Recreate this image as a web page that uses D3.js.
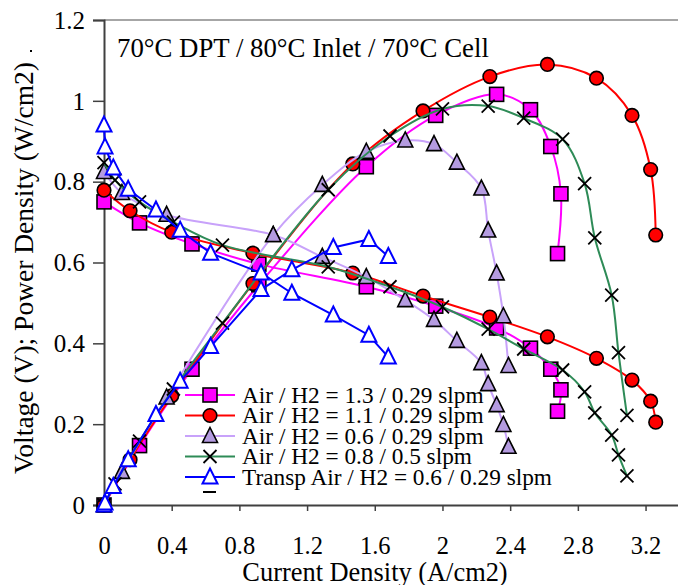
<!DOCTYPE html>
<html>
<head>
<meta charset="utf-8">
<script src="https://cdn.jsdelivr.net/npm/d3@7"></script>
<style>
  html, body { margin: 0; padding: 0; background: #fff; }
  svg { display: block; }
  svg text { font-family: "Liberation Serif", "Times New Roman", Times, serif !important; fill: #000; }
</style>
</head>
<body>
<div id="chart"></div>
<script>
// ---------- data ----------
const title = "70°C DPT / 80°C Inlet / 70°C Cell";
const xLabel = "Current Density (A/cm2)";
const yLabel = "Voltage (V); Power Density (W/cm2)";
const xTicks = [0, 0.4, 0.8, 1.2, 1.6, 2, 2.4, 2.8, 3.2];
const yTicks = [0, 0.2, 0.4, 0.6, 0.8, 1, 1.2];

const seriesNames = [
  "Air / H2 = 1.3 / 0.29 slpm",
  "Air / H2 = 1.1 / 0.29 slpm",
  "Air / H2 = 0.6 / 0.29 slpm",
  "Air / H2 = 0.8 / 0.5 slpm",
  "Transp Air / H2 = 0.6 / 0.29 slpm"
];

// Air/H2 = 1.3/0.29
const cur13 = [0, 0.21, 0.52, 0.915, 1.55, 1.96, 2.32, 2.52, 2.64, 2.70, 2.68];
const volt13 = [0.75, 0.698, 0.646, 0.596, 0.54, 0.492, 0.438, 0.388, 0.336, 0.285, 0.232];
const pow13 = [0, 0.147, 0.336, 0.545, 0.837, 0.964, 1.016, 0.978, 0.887, 0.770, 0.622];

// Air/H2 = 1.1/0.29
const cur11 = [0, 0.154, 0.40, 0.88, 1.47, 1.885, 2.28, 2.62, 2.91, 3.12, 3.23, 3.26];
const volt11 = [0.779, 0.728, 0.675, 0.623, 0.574, 0.517, 0.465, 0.416, 0.363, 0.309, 0.257, 0.205];
const pow11 = [0, 0.112, 0.27, 0.548, 0.844, 0.975, 1.06, 1.09, 1.056, 0.964, 0.83, 0.668];

// Air/H2 = 0.6/0.29
const cur06 = [0, 0.106, 0.37, 1.0, 1.29, 1.55, 1.78, 1.95, 2.085, 2.23, 2.27, 2.32, 2.36, 2.39];
const volt06 = [0.824, 0.772, 0.718, 0.668, 0.614, 0.564, 0.507, 0.458, 0.406, 0.351, 0.299, 0.247, 0.198, 0.144];
const pow06 = [0, 0.082, 0.266, 0.668, 0.792, 0.874, 0.902, 0.893, 0.847, 0.783, 0.679, 0.573, 0.467, 0.344];

// Air/H2 = 0.8/0.5
const cur08 = [0, 0.065, 0.21, 0.41, 0.70, 1.325, 1.69, 2.0, 2.27, 2.48, 2.71, 2.84, 2.9, 3.0, 3.04, 3.09];
const volt08 = [0.847, 0.804, 0.75, 0.70, 0.643, 0.589, 0.54, 0.49, 0.435, 0.386, 0.334, 0.28, 0.228, 0.173, 0.124, 0.072];
const pow08 = [0, 0.052, 0.158, 0.287, 0.45, 0.78, 0.913, 0.98, 0.987, 0.957, 0.905, 0.795, 0.661, 0.519, 0.377, 0.222];

// Transp Air/H2 = 0.6/0.29
const curTr = [0, 0.006, 0.055, 0.143, 0.307, 0.45, 0.63, 0.928, 1.11, 1.355, 1.565, 1.68];
const voltTr = [0.94, 0.886, 0.834, 0.781, 0.73, 0.68, 0.623, 0.574, 0.524, 0.47, 0.42, 0.366];
const powTr = [0, 0.005, 0.046, 0.112, 0.224, 0.306, 0.392, 0.533, 0.582, 0.637, 0.657, 0.615];

// ---------- chart ----------
const FONT = '"Liberation Serif", "Times New Roman", Times, serif';
const W = 678, H = 585;
const svg = d3.select("#chart").append("svg").attr("width", W).attr("height", H)
  .attr("font-family", FONT);
svg.append("rect").attr("width", W).attr("height", H).attr("fill", "#fff");

const x = d3.scaleLinear().domain([0, 3.4]).range([104, 679.4]);
const y = d3.scaleLinear().domain([0, 1.2]).range([505, 20]);

const styles = [
  { line: "#ff00ff", fill: "#ff00ff", stroke: "#000", shape: "square", curve: d3.curveCatmullRom.alpha(0.5) },
  { line: "#ff0000", fill: "#ff0000", stroke: "#000", shape: "circle", curve: d3.curveCatmullRom.alpha(0.5) },
  { line: "#c8a2fa", fill: "#b49be0", stroke: "#000", shape: "triangle", curve: d3.curveCatmullRom.alpha(0.5) },
  { line: "#2e8b57", fill: "none", stroke: "#000", shape: "x", curve: d3.curveCatmullRom.alpha(0.5) },
  { line: "#0000ff", fill: "#fff", stroke: "#0000ff", shape: "otriangle", curve: d3.curveLinear }
];

const data = [
  { cur: cur13, volt: volt13, pow: pow13 },
  { cur: cur11, volt: volt11, pow: pow11 },
  { cur: cur06, volt: volt06, pow: pow06 },
  { cur: cur08, volt: volt08, pow: pow08 },
  { cur: curTr, volt: voltTr, pow: powTr }
];

// frame: top border light gray
svg.append("line").attr("x1", 104).attr("x2", W).attr("y1", 20).attr("y2", 20)
  .attr("stroke", "#a6a6a6").attr("stroke-width", 2);

// y axis
const yAxis = d3.axisLeft(y).tickValues(yTicks).tickSize(11).tickPadding(8)
  .tickFormat(d => d3.format("")(+d.toFixed(1)));
const gy = svg.append("g").attr("transform", "translate(104,0)").call(yAxis);
gy.attr("font-family", FONT);
gy.select(".domain").attr("stroke", "#404040").attr("stroke-width", 2);
gy.selectAll(".tick line").attr("stroke", "#404040").attr("stroke-width", 1.5);
gy.selectAll("text").attr("font-family", FONT).style("font-size", "25px").attr("fill", "#000").attr("dy", "0.33em").attr("x", -19);

// x axis
const xAxis = d3.axisBottom(x).tickValues(xTicks).tickSize(6).tickPadding(26)
  .tickFormat(d => d3.format("")(+d.toFixed(1)));
const gx = svg.append("g").attr("transform", "translate(0,505)").call(xAxis);
gx.attr("font-family", FONT);
gx.select(".domain").attr("stroke", "#404040").attr("stroke-width", 2);
gx.selectAll(".tick line").attr("stroke", "#404040").attr("stroke-width", 1.5);
gx.selectAll(".tick").filter(d => d === 0).select("line").remove();
gx.selectAll("text").attr("font-family", FONT).style("font-size", "24.5px").attr("fill", "#000");

// title
svg.append("text").attr("x", 117).attr("y", 57).attr("font-family", FONT).style("font-size", "26.8px").text(title);

// axis labels
svg.append("text").attr("x", 375).attr("y", 581).attr("text-anchor", "middle")
  .attr("font-family", FONT).style("font-size", "26.4px").text(xLabel);
svg.append("text").attr("transform", "translate(33,268) rotate(-90)").attr("text-anchor", "middle")
  .attr("font-family", FONT).style("font-size", "27.5px").text(yLabel);
svg.append("rect").attr("x", 30).attr("y", 50).attr("width", 2).attr("height", 2).attr("fill", "#000");

// marker drawing
function marker(g, shape, st, cx, cy) {
  if (shape === "square") {
    g.append("rect").attr("x", cx - 7).attr("y", cy - 7).attr("width", 14).attr("height", 14)
      .attr("fill", st.fill).attr("stroke", st.stroke).attr("stroke-width", 1.6);
  } else if (shape === "circle") {
    g.append("circle").attr("cx", cx).attr("cy", cy).attr("r", 6.8)
      .attr("fill", st.fill).attr("stroke", st.stroke).attr("stroke-width", 1.6);
  } else if (shape === "triangle" || shape === "otriangle") {
    const s = 7.5;
    const pts = [[cx, cy - s - 1], [cx + s, cy + s - 1], [cx - s, cy + s - 1]];
    g.append("polygon").attr("points", pts.map(p => p.join(",")).join(" "))
      .attr("fill", st.fill).attr("stroke", st.stroke).attr("stroke-width", shape === "otriangle" ? 2 : 1.6)
      .attr("stroke-linejoin", "miter");
  } else if (shape === "x") {
    const s = 6.5;
    g.append("path").attr("d", `M${cx - s},${cy - s}L${cx + s},${cy + s}M${cx - s},${cy + s}L${cx + s},${cy - s}`)
      .attr("stroke", "#000").attr("stroke-width", 1.8).attr("fill", "none");
  }
}

const plot = svg.append("g");
data.forEach((s, i) => {
  const st = styles[i];
  const line = d3.line().x(d => x(d[0])).y(d => y(d[1])).curve(st.curve);
  const vPts = s.cur.map((c, k) => [c, s.volt[k]]);
  const pPts = s.cur.map((c, k) => [c, s.pow[k]]);
  const g = plot.append("g");
  [vPts, pPts].forEach(pts => {
    g.append("path").attr("d", line(pts)).attr("fill", "none")
      .attr("stroke", st.line).attr("stroke-width", 2);
  });
  [vPts, pPts].forEach(pts => {
    pts.forEach(p => marker(g, st.shape, st, x(p[0]), y(p[1])));
  });
});

// legend
const legY = [395, 415.5, 436, 456.5, 477];
const leg = svg.append("g");
seriesNames.forEach((name, i) => {
  const st = styles[i];
  leg.append("line").attr("x1", 185).attr("x2", 235).attr("y1", legY[i]).attr("y2", legY[i])
    .attr("stroke", st.line).attr("stroke-width", 2);
  marker(leg, st.shape, st, 210, legY[i]);
  leg.append("text").attr("x", 242).attr("y", legY[i] + 7.5).attr("font-family", FONT)
    .style("font-size", "23.3px").text(name);
});
leg.append("line").attr("x1", 203).attr("x2", 216).attr("y1", 492).attr("y2", 492)
  .attr("stroke", "#000").attr("stroke-width", 2);
</script>
</body>
</html>
